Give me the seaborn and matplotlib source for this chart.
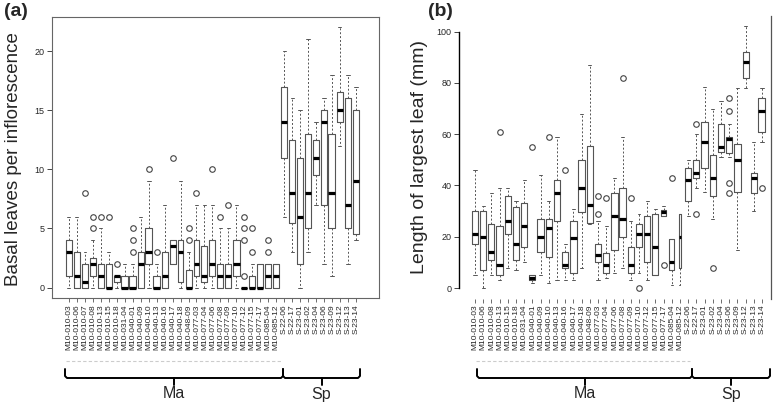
import numpy as np
import matplotlib
matplotlib.use("Agg")
import matplotlib.pyplot as plt
from matplotlib.lines import Line2D
import seaborn as sns

# ---- panel (a): basal leaves per inflorescence ----
labels_a = ["M10-010-03", "M10-010-06", "M10-010-07", "M10-010-08", "M10-010-13", "M10-010-15",
            "M10-010-18", "M10-031-04", "M10-040-01", "M10-040-09", "M10-040-10", "M10-040-13",
            "M10-040-16", "M10-040-17", "M10-040-18", "M10-048-09", "M10-077-03", "M10-077-04",
            "M10-077-06", "M10-077-08", "M10-077-09", "M10-077-10", "M10-077-12", "M10-077-15",
            "M10-077-17", "M10-085-04", "M10-085-12", "S-22-06", "S-22-17", "S-23-01", "S-23-02",
            "S-23-04", "S-23-06", "S-23-09", "S-23-12", "S-23-13", "S-23-14"]
lo_a = [0, 0, 0, 0, 0, 0, 0, 0, 0, 0, 0, 0, 0, 2, 0, 0, 0, 0, 0, 0, 0, 0, 0, 0, 0, 0, 0,
        6, 3, 0, 3, 7, 2, 1, 12, 2, 4]
q1_a = [1, 0, 0, 1, 0, 0, 0.5, 0, 0, 0, 2, 0, 0, 2, 0.5, 0, 1, 0.5, 1, 0, 0, 1, 0, 0, 0, 0, 0,
        11, 5.5, 2, 5, 9.5, 7, 5, 14, 5, 4.5]
med_a = [3, 1, 0.5, 2, 1, 0, 1, 0, 0, 2, 3, 0, 1, 3.5, 3, 0, 2, 1, 2, 1, 1, 2, 0, 0, 0, 1, 1,
         14, 8, 6, 8, 11, 14, 8, 15, 7, 9]
q3_a = [4, 3, 2, 2.5, 2, 2, 1, 1, 1, 3, 5, 1, 3, 4, 4, 1.5, 4, 3.5, 4, 2, 2, 4, 0, 1, 2, 2, 2,
        17, 12.5, 11, 13, 12.5, 15, 13, 16.5, 16, 15]
hi_a = [6, 6, 3, 4, 5, 3, 1, 2, 2, 6, 9, 2, 7, 4, 9, 3, 7, 7, 7, 5, 5, 7, 0, 2, 2, 2, 2,
        20, 16, 15, 21, 14, 16, 18, 22, 18, 17]
out_a = [[], [], [8], [5, 6], [6], [6], [2], [], [3, 4, 5], [], [10], [3], [], [11], [], [4, 5],
         [8], [], [10], [6], [7], [], [1, 4, 5, 6], [3, 5], [], [3, 4], [],
         [], [], [], [], [], [], [], [], [], []]
wd_a = [0.75, 0.75, 0.7, 0.7, 0.7, 0.7, 0.7, 0.85, 0.85, 0.8, 0.95, 0.8, 0.75, 0.75, 0.7, 0.75,
        0.75, 0.75, 0.75, 0.75, 0.75, 0.8, 0.8, 0.8, 0.75, 0.7, 0.8,
        0.75, 0.8, 0.84, 0.8, 0.84, 0.84, 0.88, 0.75, 0.84, 0.84]

# ---- panel (b): length of largest leaf ----
labels_b = [l for l in labels_a if l != "M10-010-07"]
lo_b = [5, 0, 5, 3, 8, 7, 10, 2, 5, 2, 3, 3, 3, 8, 25, 3, 4, 6, 8, 3, 6, 3, 5, 28, 1, 1,
        28, 39, 37.5, 27, 51, 51, 15, 78, 30, 57]
q1_b = [17, 7, 11, 5, 21, 11, 16, 3, 14, 12, 26, 8, 6, 29.5, 25.5, 10, 6, 15, 20, 6, 16, 10, 5, 28,
        7, 8, 34, 43, 46.7, 36, 53, 52.5, 37.5, 82, 37, 61]
med_b = [21, 20, 14, 9, 26, 17, 24, 4, 20, 23.5, 37, 9, 19.5, 39, 32.5, 13, 9, 28, 27, 9, 21, 21,
         16, 29.6, 10, 20, 42, 45, 57, 43, 55, 58, 50, 88, 43, 69]
q3_b = [30, 30, 25, 24, 36, 31.5, 33, 5, 27, 27, 42, 14, 26, 50, 55.5, 17, 13.5, 37, 39, 16, 25,
        28, 29, 30.5, 19, 29, 47, 50, 64.6, 52, 64, 59, 56, 92, 45, 74]
hi_b = [46, 32, 37, 39, 39, 34, 42, 5, 44, 34, 59, 17, 31, 68, 87, 26, 24, 43, 59, 26, 29, 34,
        31, 32, 19, 29, 50, 60, 78.5, 70, 73, 64, 78, 102, 57, 78]
out_b = [[], [], [], [61], [], [], [], [55], [], [59], [], [46], [], [], [], [29, 36], [35], [],
         [82], [35], [0], [], [], [9], [43], [],
         [], [64, 29], [], [8], [], [74, 69, 41, 37], [], [], [], [39]]
wd_b = [0.85, 0.8, 0.75, 0.8, 0.8, 0.75, 0.8, 0.75, 0.85, 0.8, 0.8, 0.8, 0.8, 0.85, 0.8, 0.8,
        0.8, 0.85, 0.8, 0.75, 0.7, 0.75, 0.75, 0.7, 0.6, 0.25,
        0.8, 0.75, 0.8, 0.8, 0.8, 0.75, 0.8, 0.75, 0.8, 0.85]

sns.set_theme(style="ticks")
plt.rcParams["font.family"] = ["Liberation Sans", "DejaVu Sans"]

W, H = 778, 403
fig = plt.figure(figsize=(W / 100, H / 100), dpi=100)


def px_axes(l, t, r, b):
    return fig.add_axes([l / W, 1 - b / H, (r - l) / W, (b - t) / H])


def draw_boxes(ax, lo, q1, med, q3, hi, out, wd, labels):
    stats = []
    for i in range(len(med)):
        stats.append(dict(whislo=lo[i], q1=q1[i], med=med[i], q3=q3[i],
                          whishi=hi[i], fliers=out[i]))
    pos = np.arange(1, len(med) + 1)
    ax.bxp(stats, positions=pos, widths=wd, capwidths=[w * 0.5 for w in wd],
           boxprops=dict(color="#555555", lw=0.8),
           whiskerprops=dict(color="#555555", lw=0.7, ls=(0, (2, 2))),
           capprops=dict(color="#555555", lw=0.7),
           medianprops=dict(color="black", lw=2.3, solid_capstyle="butt"),
           flierprops=dict(marker="o", mfc="none", mec="#444444", ms=4, mew=0.8))
    ax.set_xticks(pos)
    ax.set_xticklabels(labels, rotation=90, fontsize=6)
    ax.tick_params(axis="x", bottom=True, length=3, width=0.6, color="#555555", pad=1.5)
    ax.tick_params(axis="y", left=True, length=3.5, width=0.6, labelsize=6.5, pad=2)


# panel (a)
ax1 = px_axes(52, 17, 379, 298)
draw_boxes(ax1, lo_a, q1_a, med_a, q3_a, hi_a, out_a, wd_a, labels_a)
ax1.set_xlim(-1.13, 39.9)
ax1.set_ylim(-0.88, 22.88)
ax1.set_yticks([0, 5, 10, 15, 20])
for s in ax1.spines.values():
    s.set_color("#666666")
    s.set_linewidth(0.8)

# panel (b)
ax2 = px_axes(459, 16, 771, 298.5)
draw_boxes(ax2, lo_b, q1_b, med_b, q3_b, hi_b, out_b, wd_b, labels_b)
ax2.set_xlim(-0.95, 37.1)
ax2.set_ylim(-4.08, 106.08)
ax2.set_yticks([0, 20, 40, 60, 80, 100])
ax2.spines["top"].set_visible(False)
ax2.spines["bottom"].set_visible(False)
ax2.spines["left"].set_color("black")
ax2.spines["left"].set_linewidth(1.0)
ax2.spines["left"].set_bounds(0, 100)
ax2.spines["right"].set_visible(True)
ax2.spines["right"].set_color("#555555")
ax2.spines["right"].set_linewidth(0.9)

# axis titles and panel letters
fig.text(14 / W, 1 - 159 / H, "Basal leaves per inflorescence", rotation=90,
         ha="center", va="center", fontsize=13.5)
fig.text(419 / W, 1 - 157 / H, "Length of largest leaf (mm)", rotation=90,
         ha="center", va="center", fontsize=14)
fig.text(4 / W, 1 - 11 / H, "(a)", fontsize=14, fontweight="bold", va="center")
fig.text(428 / W, 1 - 11 / H, "(b)", fontsize=14, fontweight="bold", va="center")


def fig_line(xs, ys, **kw):
    fig.add_artist(Line2D([x / W for x in xs], [1 - y / H for y in ys],
                          transform=fig.transFigure, **kw))


def brace(x0, xs, x1, names, y=378, up=9, down=7):
    for (a, b), name in zip([(x0, xs), (xs, x1)], names):
        fig_line([a, a, a + 2, b - 2, b, b], [y - up, y - 2, y, y, y - 2, y - up],
                 color="black", lw=1.4)
        c = (a + b) / 2
        fig_line([c, c], [y, y + down], color="black", lw=1.4)
        fig.text(c / W, 1 - 394 / H, name, ha="center", va="center", fontsize=11.5)


fig_line([66, 281], [361, 361], color="#cccccc", lw=0.8, ls=(0, (3, 2)))
fig_line([476, 690], [361, 361], color="#cccccc", lw=0.8, ls=(0, (3, 2)))
brace(65, 283, 360, ["Ma", "Sp"])
brace(477, 692, 770, ["Ma", "Sp"])

fig.savefig("out.png", dpi=100)
